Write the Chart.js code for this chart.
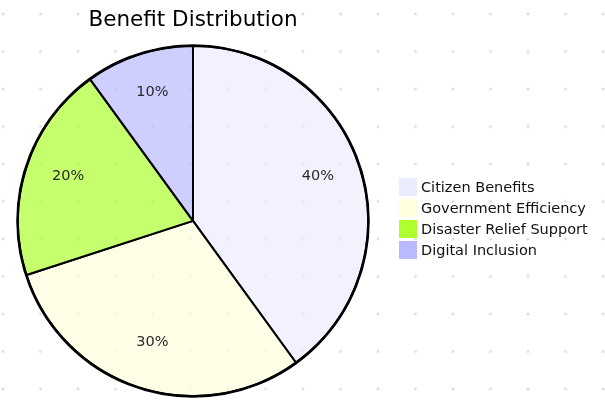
<!DOCTYPE html>
<html>
<head>
<meta charset="utf-8">
<title>Benefit Distribution</title>
<script src="https://cdn.jsdelivr.net/npm/chart.js@4.4.1/dist/chart.umd.min.js"></script>
<style>
    body {
        margin: 0;
        width: 605px;
        height: 410px;
        background-color: #fff;
        background-image: radial-gradient(circle, #dedede 1.3px, transparent 1.7px);
        background-size: 37.5px 37.5px;
        background-position: -15.75px -4.75px;
    }
    canvas { display: block; }
</style>
</head>
<body>
<canvas id="benefit-chart" width="605" height="410"></canvas>
<script>
// Benefit Distribution pie
const categories = ['Citizen Benefits', 'Government Efficiency', 'Disaster Relief Support', 'Digital Inclusion'];
const shares = [40, 30, 20, 10];
const sliceColors = ['#ececff', '#ffffde', '#adff2f', '#b9b9ff'];

const FONT = 'DejaVu Sans';

function withAlpha(hex, a) {
    const n = parseInt(hex.slice(1), 16);
    return `rgba(${(n >> 16) & 255}, ${(n >> 8) & 255}, ${n & 255}, ${a})`;
}

// percent labels at 3/4 of the radius, baseline on the centroid, plus the outer ring
const sliceLabels = {
    id: 'sliceLabels',
    afterDatasetsDraw(chart) {
        const ctx = chart.ctx;
        const values = chart.data.datasets[0].data;
        const total = values.reduce((a, b) => a + b, 0);
        const arcs = chart.getDatasetMeta(0).data;
        ctx.save();
        const first = arcs[0].getProps(['x', 'y', 'outerRadius'], true);
        ctx.beginPath();
        ctx.arc(first.x, first.y, first.outerRadius + 0.5, 0, Math.PI * 2);
        ctx.lineWidth = 2.5;
        ctx.strokeStyle = '#000';
        ctx.stroke();

        ctx.font = '14.5px "' + FONT + '"';
        ctx.fillStyle = '#2a2a2a';
        ctx.textAlign = 'center';
        ctx.textBaseline = 'alphabetic';
        arcs.forEach((arc, i) => {
            const p = arc.getProps(['x', 'y', 'startAngle', 'endAngle', 'outerRadius'], true);
            const mid = (p.startAngle + p.endAngle) / 2;
            const r = p.outerRadius * 0.75;
            const pct = Math.round(values[i] / total * 100) + '%';
            ctx.fillText(pct, p.x + Math.cos(mid) * r, p.y + Math.sin(mid) * r);
        });
        ctx.restore();
    }
};

// legend beside the pie, solid swatches
const sideLegend = {
    id: 'sideLegend',
    afterDraw(chart, args, opts) {
        const ctx = chart.ctx;
        ctx.save();
        ctx.font = '14.5px "' + FONT + '"';
        ctx.textBaseline = 'alphabetic';
        chart.data.labels.forEach((label, i) => {
            const top = opts.top + i * opts.spacing;
            ctx.fillStyle = sliceColors[i];
            ctx.fillRect(opts.left, top, opts.box, opts.box);
            ctx.fillStyle = '#111';
            ctx.fillText(label, opts.left + opts.box + opts.gap, top + 14);
        });
        ctx.restore();
    }
};

const benefitCtx = document.getElementById('benefit-chart').getContext('2d');
const benefitChart = new Chart(benefitCtx, {
    type: 'pie',
    data: {
        labels: categories,
        datasets: [{
            data: shares,
            backgroundColor: sliceColors.map(c => withAlpha(c, 0.7)),
            borderColor: '#000',
            borderWidth: 2,
            hoverOffset: 0
        }]
    },
    options: {
        responsive: false,
        animation: false,
        devicePixelRatio: 1,
        layout: {
            padding: { left: 17, right: 236, top: 0, bottom: 13 }
        },
        plugins: {
            title: {
                display: true,
                text: 'Benefit Distribution',
                fullSize: false,
                color: '#000',
                font: { family: FONT, size: 21.5, weight: 'normal' },
                padding: { top: 8, bottom: 11 }
            },
            legend: { display: false },
            tooltip: { enabled: false },
            sideLegend: { left: 399, top: 178, spacing: 21, box: 18, gap: 4 }
        }
    },
    plugins: [sliceLabels, sideLegend]
});
</script>
</body>
</html>
